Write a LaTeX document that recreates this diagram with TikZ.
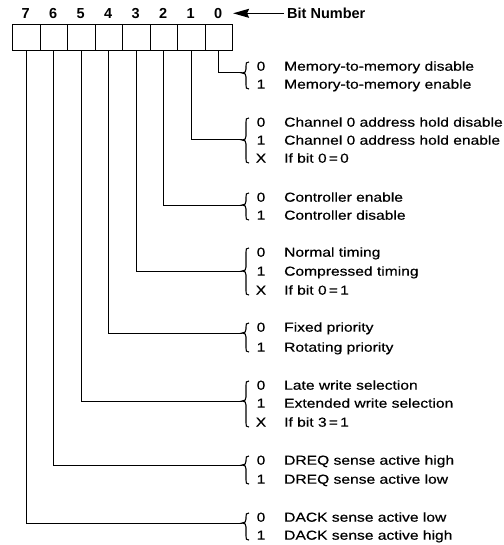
\documentclass[tikz,border=0pt]{standalone}
\usepackage{fontspec}
\setmainfont{Liberation Sans}
\newfontfamily\bodyfont[FakeStretch=1.2,FakeBold=0.4]{Liberation Sans}
\usetikzlibrary{arrows.meta}
\newcommand\regbrace[3]{%
  \draw[bracestyle] (249,#1) .. controls (246,#1) and (246,#1+1) .. (246,#1+4)
    -- (246,#2-4) .. controls (246,#2-1) and (245,#2) .. (242,#2)
    .. controls (245,#2) and (246,#2+1) .. (246,#2+4)
    -- (246,#3-4) .. controls (246,#3-1) and (246,#3) .. (249,#3);}
\newcommand\regentry[4]{%
  \node[val] (#1v) at (261,#2+4.7) {#3};
  \node[desc] (#1) at (284,#2+4.7) {#4};}
\begin{document}
\begin{tikzpicture}[x=1pt,y=-1pt,
  cell/.style={draw, line width=1.1pt, minimum width=27.5pt, minimum height=26pt, inner sep=0pt, anchor=north west},
  hdr/.style={font=\fontsize{14.5}{14.5}\selectfont\bfseries, anchor=base},
  val/.style={font=\bodyfont\fontsize{13}{13}\selectfont, anchor=base, inner sep=0pt},
  desc/.style={font=\bodyfont\fontsize{13}{13}\selectfont, anchor=base west, inner sep=0pt},
  conn/.style={line width=1pt},
  bracestyle/.style={line width=1.1pt},
  arr/.style={line width=1.2pt, -{Stealth[length=16pt, width=9pt, inset=2pt]}}]
\useasboundingbox (0,0) rectangle (503,545);
% register cells
\foreach \i in {0,...,7}{
  \node[cell] (c\i) at ({12+27.5*(7-\i)},24) {};
  \node[hdr] (h\i) at ({12+27.5*(7-\i)+13.75},18.5) {\i};
}
% bit number label and arrow
\node[hdr, anchor=base west, inner sep=3pt] (bn) at (284,18.5) {Bit Number};
\draw[arr] (bn.west) -- (bn.west -| c0.east);
% brace tips
\coordinate (t0) at (242,73);
\coordinate (t1) at (242,140);
\coordinate (t2) at (242,205);
\coordinate (t3) at (242,271);
\coordinate (t4) at (242,333);
\coordinate (t5) at (242,401);
\coordinate (t6) at (242,465);
\coordinate (t7) at (242,523);
\foreach \i in {0,...,7}{\draw[conn] (c\i.south) |- (t\i);}
% braces
\regbrace{62}{73}{89}
\regbrace{118}{140}{163}
\regbrace{193}{205}{220}
\regbrace{248}{271}{295}
\regbrace{323}{333}{352}
\regbrace{381}{401}{427}
\regbrace{456}{465}{484}
\regbrace{513}{523}{540}
% entries
\regentry{a0}{66}{0}{Memory-to-memory disable}
\regentry{a1}{84}{1}{Memory-to-memory enable}
\regentry{b0}{122}{0}{Channel 0 address hold disable}
\regentry{b1}{140}{1}{Channel 0 address hold enable}
\regentry{bx}{158}{X}{If bit 0\,=\,0}
\regentry{d0}{197}{0}{Controller enable}
\regentry{d1}{215}{1}{Controller disable}
\regentry{e0}{252}{0}{Normal timing}
\regentry{e1}{271}{1}{Compressed timing}
\regentry{ex}{290}{X}{If bit 0\,=\,1}
\regentry{f0}{327}{0}{Fixed priority}
\regentry{f1}{347}{1}{Rotating priority}
\regentry{g0}{385}{0}{Late write selection}
\regentry{g1}{403}{1}{Extended write selection}
\regentry{gx}{422}{X}{If bit 3\,=\,1}
\regentry{k0}{460}{0}{DREQ sense active high}
\regentry{k1}{479}{1}{DREQ sense active low}
\regentry{m0}{517}{0}{DACK sense active low}
\regentry{m1}{535}{1}{DACK sense active high}
\end{tikzpicture}
\end{document}
